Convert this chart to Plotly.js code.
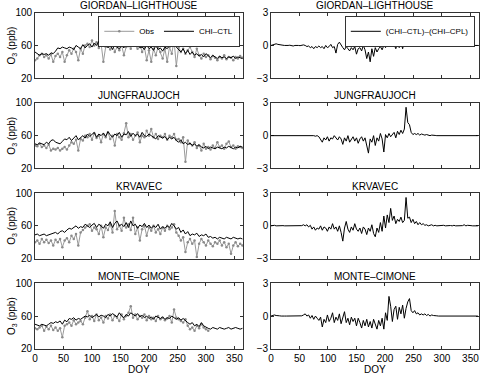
<!DOCTYPE html>
<html>
<head>
<meta charset="utf-8">
<script src="https://cdn.plot.ly/plotly-3.0.1.min.js"></script>
<style>html,body{margin:0;padding:0;background:#fff;}#chart{width:480px;height:375px;}</style>
</head>
<body>
<div id="chart"></div>
<script>
// ---- data (ozone, ppb; sampled every 4 days for O3, every 3 days for differences) ----
const stations = ["GIORDAN\u2013LIGHTHOUSE", "JUNGFRAUJOCH", "KRVAVEC", "MONTE\u2013CIMONE"];

const giordanModel = [52,50,48,50,49,50,48,51,50,53, 57,56,58,57,56,58,57,55,60,58, 56,61,57,60,62,58,63,60,65,59, 62,64,57,60,55,62,58,56,60,57, 62,58,67,70,60,63,57,58,55,61, 56,58,54,60,55,57,53,58,56,60, 62,64,58,55,52,56,50,54,49,52, 48,50,47,49,46,50,47,45,48,46, 44,47,45,46,44,46,45,47,44,46, 45,44];
const giordanObs = [42,44,48,50,46,48,44,49,40,47, 50,46,52,40,48,54,50,56,52,42, 56,50,60,62,58,66,60,64,57,62, 40,58,60,55,62,52,58,54,60,48, 58,62,56,68,60,56,62,52,58,42, 54,40,56,48,58,52,44,56,40,58, 50,66,35,58,52,56,50,54,58,52, 46,56,48,44,50,46,48,43,47,45, 42,46,44,48,43,46,45,42,46,44, 47,45];

const jungModel = [50,49,51,50,49,52,50,54,55,52, 51,50,53,56,55,58,54,57,60,55, 58,60,57,62,59,61,64,58,62,60, 63,59,65,61,58,62,60,64,58,62, 61,65,59,63,60,62,58,64,60,59, 62,60,58,56,60,58,57,59,55,58, 56,58,54,52,55,50,52,49,51,48, 50,47,49,46,45,47,44,46,45,44, 46,45,44,46,45,47,45,44,46,45, 47,46];
const jungObs = [48,47,50,46,48,45,49,42,44,43, 45,42,44,46,43,48,52,50,55,42, 56,54,60,58,62,55,63,57,60,52, 62,58,64,56,60,48,62,58,55,63, 75,58,62,55,60,64,52,60,58,66, 60,68,58,62,56,60,58,62,55,60, 58,62,55,56,52,58,28,54,50,48, 52,45,48,42,50,44,46,43,48,45, 52,46,48,44,50,53,46,48,44,47, 46,45];

const krvModel = [49,50,48,49,50,48,49,50,51,52, 50,53,54,52,55,57,56,58,60,57, 59,58,62,60,58,61,63,58,62,60, 57,62,60,65,58,63,66,60,62,59, 64,58,66,60,62,57,61,59,63,58, 61,57,60,58,62,56,59,57,60,58, 63,60,56,58,52,55,50,53,48,50, 49,51,47,49,48,50,46,47,45,46, 44,46,45,44,46,45,44,46,45,44, 45,44];
const krvObs = [40,42,38,44,40,43,39,42,36,43, 40,44,34,42,45,40,48,44,50,36, 52,55,58,60,62,54,58,56,50,60, 46,58,55,62,52,78,56,60,54,70, 58,62,55,70,50,58,42,56,60,48, 58,54,60,52,56,50,58,54,60,56, 58,62,52,48,42,46,28,40,44,38, 42,22,38,44,40,36,42,38,35,40, 38,42,36,40,34,38,26,36,40,35, 38,36];

const monteModel = [50,49,48,50,49,48,50,52,51,53, 52,54,50,55,53,57,56,58,55,57, 56,58,60,59,61,58,60,62,59,61, 60,58,62,60,63,61,59,64,60,58, 62,60,64,62,60,63,59,61,58,60, 57,59,56,60,58,57,59,56,58,57, 60,58,56,58,55,57,54,52,50,52, 48,50,47,52,48,46,45,44,46,45, 44,46,45,44,45,46,44,45,46,45, 44,45];
const monteObs = [45,44,46,48,42,47,44,48,43,46, 42,45,34,48,50,52,48,55,50,52, 54,50,58,66,56,60,54,62,55,58, 52,60,57,62,55,60,58,54,62,56, 60,64,72,58,62,56,60,58,62,55, 60,56,58,54,60,56,58,55,57,60, 52,68,58,56,54,52,56,48,44,46, 42,48,45,50,46,44,42];

const giordanDiff = [0,0.05,0.1,0.15,0.1,0.05,0,0.02,0,0.03, 0,0.02,0,-0.05,0,0.03,0,-0.02,0,0.05, 0,-0.1,-0.05,-0.2,-0.1,-0.3,-0.1,-0.2,-0.05,-0.2, -0.1,-0.3,0,-0.2,-0.1,0.1,-0.2,-0.1,-0.7,0.1, 0.3,0,-0.2,-0.4,-0.1,-0.3,-0.5,-0.2,-0.4,-0.1, -0.8,-0.3,-0.2,-0.5,0,-0.4,-1.2,-0.6,-1.5,-0.3, -1.0,-0.2,-0.6,-0.3,-0.1,-0.4,0,-0.2,0.1,1.2, 0.1,-0.1,0.1,-0.3,0.2,-0.2,0.3,-0.3,0.4,0.1, 1.0,0.3,0.1,0.2,0.05,0.1,0,0.1,0.05,0.1, 0.05,0,0.1,0.05,0,0.05,0,0.02,0,0.03, 0,0.02,0,0.03,0,0,0.02,0,0,0.01, 0,0,0.01,0,0,0.01,0,0,0,0, 0,0];
const jungDiff = [0,0,0.02,0,0,0.01,0,0,0,0, 0,0.02,0,0,0,0.02,0,-0.02,0,0, 0,0,-0.02,0,0.03,0,-0.05,0,-0.1,-0.3, -0.6,-0.2,-0.4,-0.1,-0.5,-0.2,-0.3,0,-0.2,-0.4, -0.1,-0.3,-0.8,-0.2,-0.5,0,-0.6,-0.3,-0.1,-0.5, -0.2,-0.7,-0.3,-0.1,-0.5,-0.2,-0.8,-1.6,-0.3,-0.6, 0,-0.9,-0.2,-0.5,0.2,-0.3,-1.5,0.1,-0.2,0.2, -0.1,0.1,0.3,-0.2,0.4,0.1,0.5,0.2,0.6,2.6, 1.2,1.0,0.3,0.1,0.2,0.1,0.2,0.05,0.15,0.1, 0.05,0.1,0.05,0,0.05,0,0.02,0,0,0, 0,0,0.01,0,0,0,0,0,0.02,0, 0,0,0,0.02,0,0,0.05,0,0,0.02, 0,0];
const krvDiff = [0,0.02,0.05,0,0.02,0,0,0.02,0,0, 0,0,0.02,0,0.03,0,0,0.05,0.02,0.1, 0,0.1,-0.1,0.05,-0.3,-0.1,-0.4,-0.2,-0.3,0, -0.4,-0.1,-0.2,-0.5,-0.1,-0.3,0.2,-0.3,-0.1,-0.5, 0,-0.6,-1.4,-0.2,0.4,-0.3,-0.6,-0.1,-0.4,0.2, -0.3,-0.5,-0.2,-0.7,-0.1,-0.3,-0.8,-0.2,-0.5,0.1, -0.7,-1.0,-0.2,-0.6,0.3,-0.5,0.9,-0.2,1.0,0.3, 1.6,0.5,0.9,0.2,0.6,0.4,0.8,0.3,0.5,2.6, 0.7,0.8,0.3,0.6,0.2,0.4,0.1,0.3,0.1,0.2, 0.05,0.1,0,0.05,0.1,0,0.05,0,0.02,0, 0,0.05,0,0.02,0,0.03,0,0.05,0,0, 0.05,0,0.02,0.1,0,0.05,0,0.02,0,0, 0,0];
const monteDiff = [0,0.05,0.1,0.05,0,0.02,0,0.03,0,0, 0,0,0.02,0,0,0.03,0,0.05,0.02,0.1, 0.2,0,0.1,-0.2,0.05,-0.3,0,-0.2,-0.4,-0.1, -1.0,-0.3,-0.6,0.1,-0.5,-0.2,0.3,-0.6,-0.1,-0.4, 0.2,-0.7,-0.1,0.4,-0.6,-0.2,-0.8,-0.1,-0.5,-0.2, -0.9,-0.2,-0.6,-1.1,-0.4,-0.9,-0.3,-1.0,-0.5,-1.1, -0.3,-0.8,-1.2,-0.4,-0.9,-0.2,-1.2,0.3,-0.4,1.8, 0.9,-0.5,0.6,0.9,-0.3,0.8,0.2,1.0,-0.2,0.7, 1.3,1.6,0.5,0.3,0.5,0.2,0.3,0.1,0.2,0.1, 0.2,0.05,0.15,0,0.1,0.05,0,0.02,0,0, 0,0,0.02,0,0,0,0.02,0,0,0, 0,0,0,0,0,0,0,0,0,0, 0,0];

const xTicks = [0,50,100,150,200,250,300,350];
const o3Ticks = [20,60,100];
const diffTicks = [-3,0,3];

const modelSeries = [giordanModel, jungModel, krvModel, monteModel];
const obsSeries = [giordanObs, jungObs, krvObs, monteObs];
const diffSeries = [giordanDiff, jungDiff, krvDiff, monteDiff];

// day-of-year sample positions
const daysOf = (arr, step) => arr.map((_, i) => i * step);

// ---- layout geometry ----
const W = 480, H = 375;
const leftX = [35 / W, 243 / W], rightX = [271 / W, 479 / W];
const tops = [12.7, 102.9, 193.1, 283.3], ph = 65.5;
const FONT = "Liberation Sans, Arial, sans-serif";

const traces = [];
const layout = {
  width: W, height: H,
  margin: {l: 0, r: 0, t: 0, b: 0},
  paper_bgcolor: "#fff", plot_bgcolor: "#fff",
  font: {family: FONT, size: 10, color: "#000"},
  showlegend: true,
  annotations: [],
  legend: {x: 239.5 / W, y: 1 - 16 / H, xanchor: "right", yanchor: "top", orientation: "h",
    bgcolor: "#fff", bordercolor: "#000", borderwidth: 0.8, font: {size: 8, family: FONT},
    itemwidth: 30, tracegroupgap: 0},
  legend2: {x: 475 / W, y: 1 - 16 / H, xanchor: "right", yanchor: "top", orientation: "h",
    bgcolor: "#fff", bordercolor: "#000", borderwidth: 0.8, font: {size: 8, family: FONT},
    itemwidth: 30}
};

function axisCommon(extra) {
  return Object.assign({
    showline: true, linecolor: "#000", linewidth: 0.8, mirror: "ticks",
    ticks: "inside", ticklen: 3, tickwidth: 0.8, tickcolor: "#000",
    showgrid: false, zeroline: false, fixedrange: true,
    tickfont: {size: 10, family: FONT, color: "#000"}
  }, extra);
}

for (let p = 0; p < 4; p++) {
  const aL = 2 * p + 1, aR = 2 * p + 2;
  const yDom = [1 - (tops[p] + ph) / H, 1 - tops[p] / H];
  const bottomRow = p === 3;
  layout["xaxis" + aL] = axisCommon({domain: leftX, range: [0, 365], tickvals: xTicks, anchor: "y" + aL, showticklabels: bottomRow});
  layout["xaxis" + aR] = axisCommon({domain: rightX, range: [0, 365], tickvals: xTicks, anchor: "y" + aR, showticklabels: bottomRow});
  layout["yaxis" + aL] = axisCommon({domain: yDom, range: [20, 100], tickvals: o3Ticks, anchor: "x" + aL});
  layout["yaxis" + aR] = axisCommon({domain: yDom, range: [-3, 3], tickvals: diffTicks, anchor: "x" + aR});

  const xs = aL === 1 ? "x" : "x" + aL, ys = aL === 1 ? "y" : "y" + aL;
  traces.push({
    x: daysOf(obsSeries[p], 4), y: obsSeries[p], xaxis: xs, yaxis: ys,
    type: "scatter", mode: "lines+markers", name: "Obs",
    line: {color: "#9a9a9a", width: 1}, marker: {color: "#8a8a8a", size: 2.5},
    showlegend: p === 0, legend: "legend"
  });
  traces.push({
    x: daysOf(modelSeries[p], 4), y: modelSeries[p], xaxis: xs, yaxis: ys,
    type: "scatter", mode: "lines", name: "CHI\u2013CTL",
    line: {color: "#000", width: 1},
    showlegend: p === 0, legend: "legend"
  });
  traces.push({
    x: daysOf(diffSeries[p], 3), y: diffSeries[p], xaxis: "x" + aR, yaxis: "y" + aR,
    type: "scatter", mode: "lines", name: "(CHI\u2013CTL)\u2013(CHI\u2013CPL)",
    line: {color: "#000", width: 1},
    showlegend: p === 0, legend: "legend2"
  });

  // panel titles
  [leftX, rightX].forEach(dom => {
    layout.annotations.push({
      text: stations[p], xref: "paper", yref: "paper",
      x: (dom[0] + dom[1]) / 2, y: 1 - (tops[p] - 7) / H,
      xanchor: "center", yanchor: "middle", showarrow: false,
      font: {size: 10, family: FONT, color: "#000"}
    });
  });
  // y axis title
  layout.annotations.push({
    text: "O<sub>3</sub> (ppb)", xref: "paper", yref: "paper",
    x: 12 / W, y: 1 - (tops[p] + ph / 2) / H, textangle: -90,
    xanchor: "center", yanchor: "middle", showarrow: false,
    font: {size: 10, family: FONT, color: "#000"}
  });
}
// x axis titles
[leftX, rightX].forEach(dom => {
  layout.annotations.push({
    text: "DOY", xref: "paper", yref: "paper",
    x: (dom[0] + dom[1]) / 2, y: 1 - 369 / H,
    xanchor: "center", yanchor: "middle", showarrow: false,
    font: {size: 10, family: FONT, color: "#000"}
  });
});

Plotly.newPlot("chart", traces, layout, {displayModeBar: false, staticPlot: true});
</script>
</body>
</html>
